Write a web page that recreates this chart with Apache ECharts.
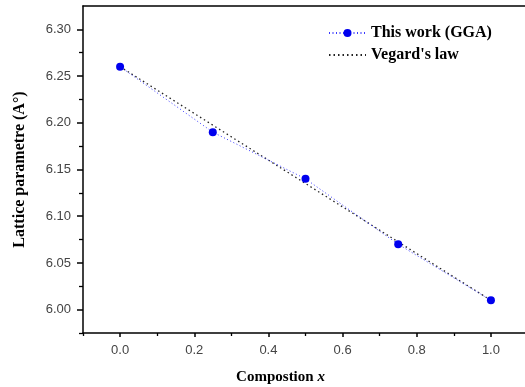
<!DOCTYPE html>
<html>
<head>
<meta charset="utf-8">
<script src="https://cdn.jsdelivr.net/npm/echarts@6/dist/echarts.min.js"></script>
<style>
html,body{margin:0;padding:0;background:#fff;}
#chart{width:525px;height:387px;}
</style>
</head>
<body>
<div id="chart"></div>
<script>
// Composition values and lattice parameters (Å)
const composition = [0.0, 0.25, 0.5, 0.75, 1.0];
const ggaLattice = [6.26, 6.19, 6.14, 6.07, 6.01];
// Vegard's law: straight line between the end members
const vegardX = [0.0, 1.0];
const vegardY = [6.26, 6.01];
// Tick positions
const xMajorTicks = [0.0, 0.2, 0.4, 0.6, 0.8, 1.0];
const xMinorTicks = [-0.1, 0.1, 0.3, 0.5, 0.7, 0.9];
const yMajorTicks = [6.00, 6.05, 6.10, 6.15, 6.20, 6.25, 6.30];
const yMinorTicks = [5.975, 6.025, 6.075, 6.125, 6.175, 6.225, 6.275];

const serif = '"Liberation Serif", "Times New Roman", serif';
const sans = '"Liberation Sans", Arial, sans-serif';

const X_MIN = -0.1, X_MAX = 1.1, Y_MIN = 5.975, Y_MAX = 6.325;

const chart = echarts.init(document.getElementById('chart'), null, {renderer: 'canvas'});

chart.setOption({
  animation: false,
  backgroundColor: '#fff',
  grid: {left: 83, top: 6, right: -3, bottom: 54, containLabel: false, outerBoundsMode: 'none'},
  legend: {
    orient: 'vertical',
    left: 323,
    top: 20,
    itemWidth: 37,
    itemHeight: 10,
    itemGap: 6,
    textStyle: {fontFamily: serif, fontWeight: 'bold', fontSize: 16, lineHeight: 16, color: '#000'},
    data: [
      {name: 'This work (GGA)'},
      {name: "Vegard's law", itemStyle: {color: 'rgba(0,0,0,0)', borderWidth: 0}}
    ]
  },
  xAxis: [{
    type: 'value',
    min: X_MIN,
    max: X_MAX,
    axisLine: {show: true, onZero: false, lineStyle: {color: '#000', width: 1.5}},
    axisTick: {show: true, inside: false, length: 4, customValues: xMajorTicks, lineStyle: {color: '#000', width: 1.5}},
    splitLine: {show: false},
    axisLabel: {
      fontFamily: sans, fontSize: 13, color: '#444', margin: 11,
      customValues: xMajorTicks,
      formatter: v => v.toFixed(1)
    },
    name: 'Compostion {i|x}',
    nameLocation: 'middle',
    nameGap: 37,
    nameTextStyle: {
      fontFamily: serif, fontWeight: 'bold', fontSize: 15, color: '#000',
      padding: [0, 50, 0, 0],
      rich: {i: {fontFamily: serif, fontWeight: 'bold', fontStyle: 'italic', fontSize: 15, color: '#000'}}
    }
  }, {
    // minor ticks along the bottom axis
    type: 'value',
    position: 'bottom',
    min: X_MIN,
    max: X_MAX,
    axisLine: {show: false, onZero: false},
    axisTick: {show: true, inside: false, length: 3, customValues: xMinorTicks, lineStyle: {color: '#000', width: 1.3}},
    axisLabel: {show: false},
    splitLine: {show: false}
  }, {
    // top frame line
    type: 'value',
    position: 'top',
    min: X_MIN,
    max: X_MAX,
    axisLine: {show: true, lineStyle: {color: '#000', width: 1.5}},
    axisTick: {show: false},
    axisLabel: {show: false},
    splitLine: {show: false}
  }],
  yAxis: [{
    type: 'value',
    min: Y_MIN,
    max: Y_MAX,
    axisLine: {show: true, onZero: false, lineStyle: {color: '#000', width: 1.5}},
    axisTick: {show: true, inside: false, length: 6, customValues: yMajorTicks, lineStyle: {color: '#000', width: 1.5}},
    splitLine: {show: false},
    axisLabel: {
      fontFamily: sans, fontSize: 13, color: '#444', margin: 12,
      customValues: yMajorTicks,
      formatter: v => v.toFixed(2)
    },
    name: 'Lattice parametre (A°)',
    nameLocation: 'middle',
    nameGap: 55,
    nameTextStyle: {fontFamily: serif, fontWeight: 'bold', fontSize: 16, color: '#000'}
  }, {
    // minor ticks along the left axis
    type: 'value',
    position: 'left',
    min: Y_MIN,
    max: Y_MAX,
    axisLine: {show: false, onZero: false},
    axisTick: {show: true, inside: false, length: 4, customValues: yMinorTicks, lineStyle: {color: '#000', width: 1.3}},
    axisLabel: {show: false},
    splitLine: {show: false}
  }],
  series: [{
    name: "Vegard's law",
    type: 'line',
    data: vegardX.map((x, i) => [x, vegardY[i]]),
    showSymbol: false,
    symbol: 'none',
    z: 2,
    lineStyle: {color: '#222', width: 1.3, type: [1.5, 3]},
    itemStyle: {color: '#222'}
  }, {
    name: 'This work (GGA)',
    type: 'line',
    data: composition.map((x, i) => [x, ggaLattice[i]]),
    symbol: 'circle',
    symbolSize: 8,
    z: 3,
    lineStyle: {color: '#3a3aff', width: 1, type: [1, 2.5]},
    itemStyle: {color: '#0000ee'}
  }]
});
</script>
</body>
</html>
